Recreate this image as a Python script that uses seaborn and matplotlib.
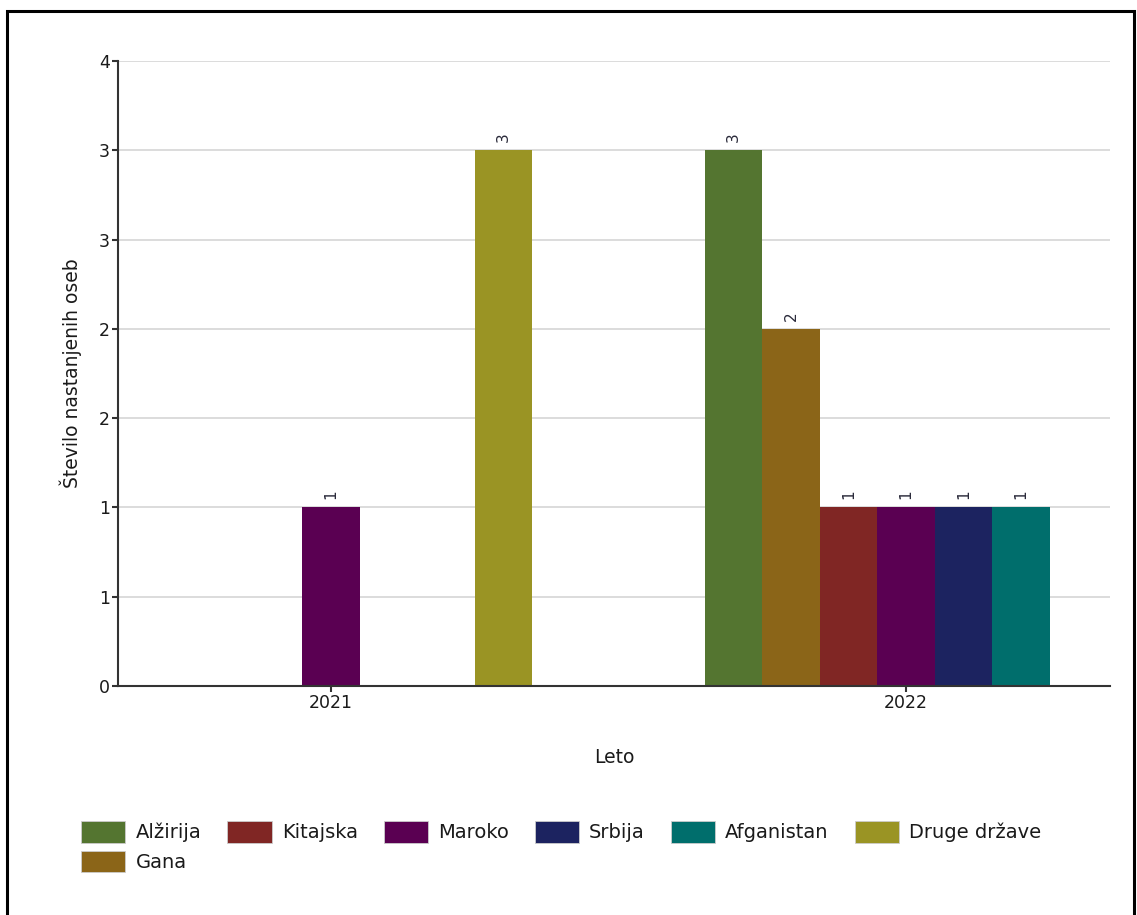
import math

import pandas as pd
from matplotlib import pyplot as plt, patches as mpatches
from matplotlib.ticker import FuncFormatter, MultipleLocator
import seaborn as sns

# data
years = ["2021", "2022"]
countries = ["Alžirija", "Gana", "Kitajska", "Maroko", "Srbija", "Afganistan", "Druge države"]
values_2021 = [None, None, None, 1, None, None, 3]
values_2022 = [3, 2, 1, 1, 1, 1, None]
colors = ["#547530", "#8B6518", "#802624", "#5A0052", "#1C2360", "#006E6C", "#9A9424"]

rows = []
for year, vals in zip(years, [values_2021, values_2022]):
    for country, v in zip(countries, vals):
        if v is not None:
            rows.append({"Leto": year, "drzava": country, "oseb": v})
df = pd.DataFrame(rows)
palette = dict(zip(countries, colors))

sns.set_style("ticks")
plt.rcParams["font.family"] = ["DejaVu Sans"]

fig = plt.figure(figsize=(11.37, 9.15), dpi=100)
ax = fig.add_axes([0.1038, 0.2503, 0.8725, 0.683])

sns.barplot(
    data=df, x="Leto", y="oseb",
    hue="drzava", hue_order=countries,
    order=years,
    palette=palette,
    width=0.7,
    saturation=1,
    linewidth=0,
    legend=False,
    ax=ax,
)

for container in ax.containers:
    ax.bar_label(container, fmt="%d", rotation=90, padding=6, fontsize=11, color="#2a2a3a")

ax.set_xlim(-0.37, 1.355)
ax.set_ylim(0, 3.5)
ax.yaxis.set_major_locator(MultipleLocator(0.5))
# the original chart rounds its half-step ticks to whole numbers
ax.yaxis.set_major_formatter(FuncFormatter(lambda v, pos: str(int(math.floor(v + 0.5)))))
ax.grid(axis="y", color="#d9d9d9", linewidth=1.3)
ax.set_axisbelow(True)

for side in ["top", "right"]:
    ax.spines[side].set_visible(False)
for side in ["left", "bottom"]:
    ax.spines[side].set_color("#333333")
    ax.spines[side].set_linewidth(1.5)
ax.tick_params(axis="both", length=4, width=1.5, color="#333333", labelsize=12.5,
               labelcolor="#1a1a1a", pad=2)

ax.set_xlabel("Leto", fontsize=13.5, labelpad=26, color="#1a1a1a")
ax.set_ylabel("Število nastanjenih oseb", fontsize=13.5, labelpad=12, color="#1a1a1a")

legend_elements = [mpatches.Patch(facecolor=palette[c], edgecolor="#cccccc", linewidth=0.6, label=c)
                   for c in countries]
fig.legend(handles=legend_elements, loc="upper left", bbox_to_anchor=(0.063, 0.113),
           ncol=6, frameon=False, fontsize=14, handlelength=2.27, handleheight=1.3,
           handletextpad=0.52, columnspacing=1.34, borderpad=0, labelspacing=0.45,
           labelcolor="#1a1a1a")

# black frame round the whole chart
fig.patches.append(mpatches.Rectangle((0.0065, -0.05), 0.9905, 1.0375, transform=fig.transFigure,
                                      fill=False, edgecolor="black", linewidth=2.2, clip_on=False))

fig.savefig("out.png", dpi=100)
